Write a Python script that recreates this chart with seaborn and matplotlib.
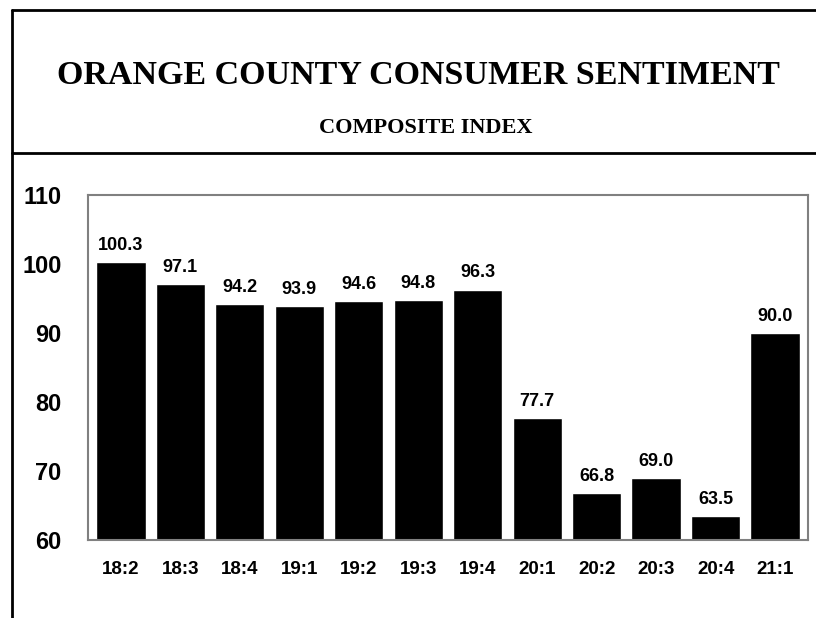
"""Orange County consumer sentiment, composite index by quarter."""
import numpy as np
import pandas as pd
import seaborn as sns
import matplotlib.pyplot as plt
from matplotlib.lines import Line2D

# Data.
quarters = ["18:2", "18:3", "18:4", "19:1", "19:2", "19:3",
            "19:4", "20:1", "20:2", "20:3", "20:4", "21:1"]
index_values = [100.3, 97.1, 94.2, 93.9, 94.6, 94.8,
                96.3, 77.7, 66.8, 69.0, 63.5, 90.0]
yticks = [60, 70, 80, 90, 100, 110]

df = pd.DataFrame({"quarter": quarters, "index": index_values})

sns.set_style("white")
SANS = ["Liberation Sans", "DejaVu Sans"]
SERIF = ["Liberation Serif", "DejaVu Serif"]
plt.rcParams["font.family"] = SANS
plt.rcParams["text.color"] = "black"
plt.rcParams["xtick.color"] = "black"
plt.rcParams["ytick.color"] = "black"

fig = plt.figure(figsize=(8.16, 6.18), dpi=100)
ax = fig.add_axes([0.108, 0.126, 0.882, 0.558])

sns.barplot(data=df, x="quarter", y="index", color="black",
            width=0.83, saturation=1, ax=ax)

# Value labels above bars.
for i, v in enumerate(index_values):
    ax.text(i, v + 1.2, f"{v:.1f}", ha="center", va="bottom",
            fontsize=13, fontweight="bold", color="black", family=SANS)

# Axes look.
ax.set_ylim(60, 110)
ax.set_xlim(-0.55, len(quarters) - 0.45)
ax.set_yticks(yticks)
ax.set_yticklabels([str(t) for t in yticks], fontsize=17, fontweight="bold")
ax.set_xticks(range(len(quarters)))
ax.set_xticklabels(quarters, fontsize=13.5, fontweight="bold")
ax.set_xticks(np.arange(-0.5, len(quarters)), minor=True)
ax.tick_params(axis="x", which="major", length=0, pad=15, labelcolor="black")
ax.tick_params(axis="x", which="minor", length=5, color="gray", direction="out")
ax.tick_params(axis="y", length=0, pad=19, labelcolor="black")
ax.set_xlabel("")
ax.set_ylabel("")
for s in ax.spines.values():
    s.set_color("gray")
    s.set_linewidth(1.5)

# Outer frame and divider.
fig.add_artist(Line2D([12 / 816, 12 / 816], [0, 1 - 10 / 618],
                      color="black", lw=2, transform=fig.transFigure))
fig.add_artist(Line2D([12 / 816, 1], [1 - 10 / 618, 1 - 10 / 618],
                      color="black", lw=2, transform=fig.transFigure))
fig.add_artist(Line2D([12 / 816, 1], [1 - 153 / 618, 1 - 153 / 618],
                      color="black", lw=2, transform=fig.transFigure))

fig.text(0.513, 1 - 75 / 618, "ORANGE COUNTY CONSUMER SENTIMENT",
         ha="center", va="center", fontsize=24.5, fontweight="bold",
         color="black", family=SERIF)
fig.text(0.522, 1 - 128 / 618, "COMPOSITE INDEX",
         ha="center", va="center", fontsize=16, fontweight="bold",
         color="black", family=SERIF)

plt.savefig("out.png", dpi=100)
plt.close()
